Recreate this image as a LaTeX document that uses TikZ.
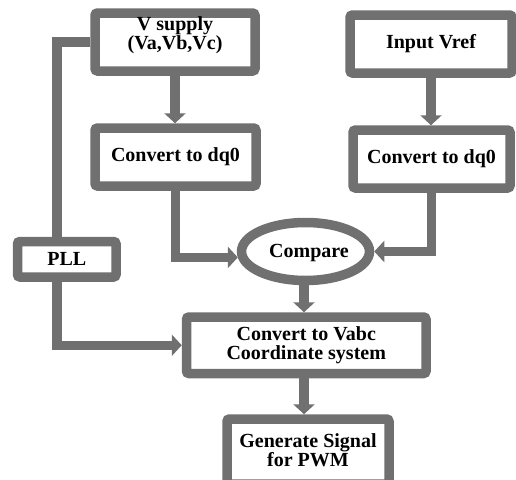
\documentclass[tikz,border=0pt]{standalone}
\usepackage{fontspec}
\setmainfont{Liberation Serif}
\usetikzlibrary{arrows.meta,shapes.geometric}
\definecolor{lgray}{RGB}{112,112,112}
\begin{document}
\begin{tikzpicture}[x=1pt,y=-1pt,
  box/.style={draw=lgray,line width=9.5pt,rounded corners=2.5pt,inner sep=0pt,fill=white,
    font=\fontsize{20}{19}\selectfont\bfseries,align=center},
  txt/.style={inner sep=0pt,font=\fontsize{20}{19}\selectfont\bfseries,align=center},
  conn/.style={draw=lgray,line width=9.5pt},
  arr/.style={conn,-{Triangle[width=21pt,length=10pt]}}]
\path[use as bounding box,clip] (0,0) rectangle (516,479);
\node[box,minimum width=160pt,minimum height=58pt] (vs) at (175,42) {};
\node[txt] (vst) at (175,35) {V supply\\(Va,Vb,Vc)};
\node[box,minimum width=161pt,minimum height=58pt] (dq1) at (175.5,157) {Convert to dq0};
\node[box,minimum width=162pt,minimum height=58pt] (vref) at (431,44) {Input Vref};
\node[box,minimum width=157pt,minimum height=58pt] (dq2) at (431.5,159) {Convert to dq0};
\node[box,minimum width=98.5pt,minimum height=35.5pt] (pll) at (66.75,259.25) {PLL};
\node[box,ellipse,rounded corners=0pt,minimum width=128pt,minimum height=58pt] (cmp) at (305.5,251.5) {};
\node[txt] (cmpt) at (309,253) {Compare};
\node[box,minimum width=239.5pt,minimum height=56.5pt] (vabc) at (306.25,345.25) {Convert to Vabc\\Coordinate system};
\node[box,minimum width=162pt,minimum height=65pt] (gen) at (308,451.5) {};
\node[txt] (gent) at (308,450) {Generate Signal\\for PWM};
\coordinate (k1) at (57,42);
\draw[arr] (vs.south) -- (vs.south |- dq1.north);
\draw[arr] (vref.south) -- (vref.south |- dq2.north);
\draw[conn] (vs.west) -| (k1 |- pll.north);
\draw[arr] (k1 |- pll.south) |- (vabc.west);
\draw[arr] (dq1.south) |- (cmp.185);
\draw[arr] (dq2.south) |- (cmp.east);
\draw[arr] (cmp.south -| 304,0) -- (vabc.north -| 304,0);
\draw[arr] (vabc.south -| 304,0) -- (gen.north -| 304,0);
\end{tikzpicture}
\end{document}
